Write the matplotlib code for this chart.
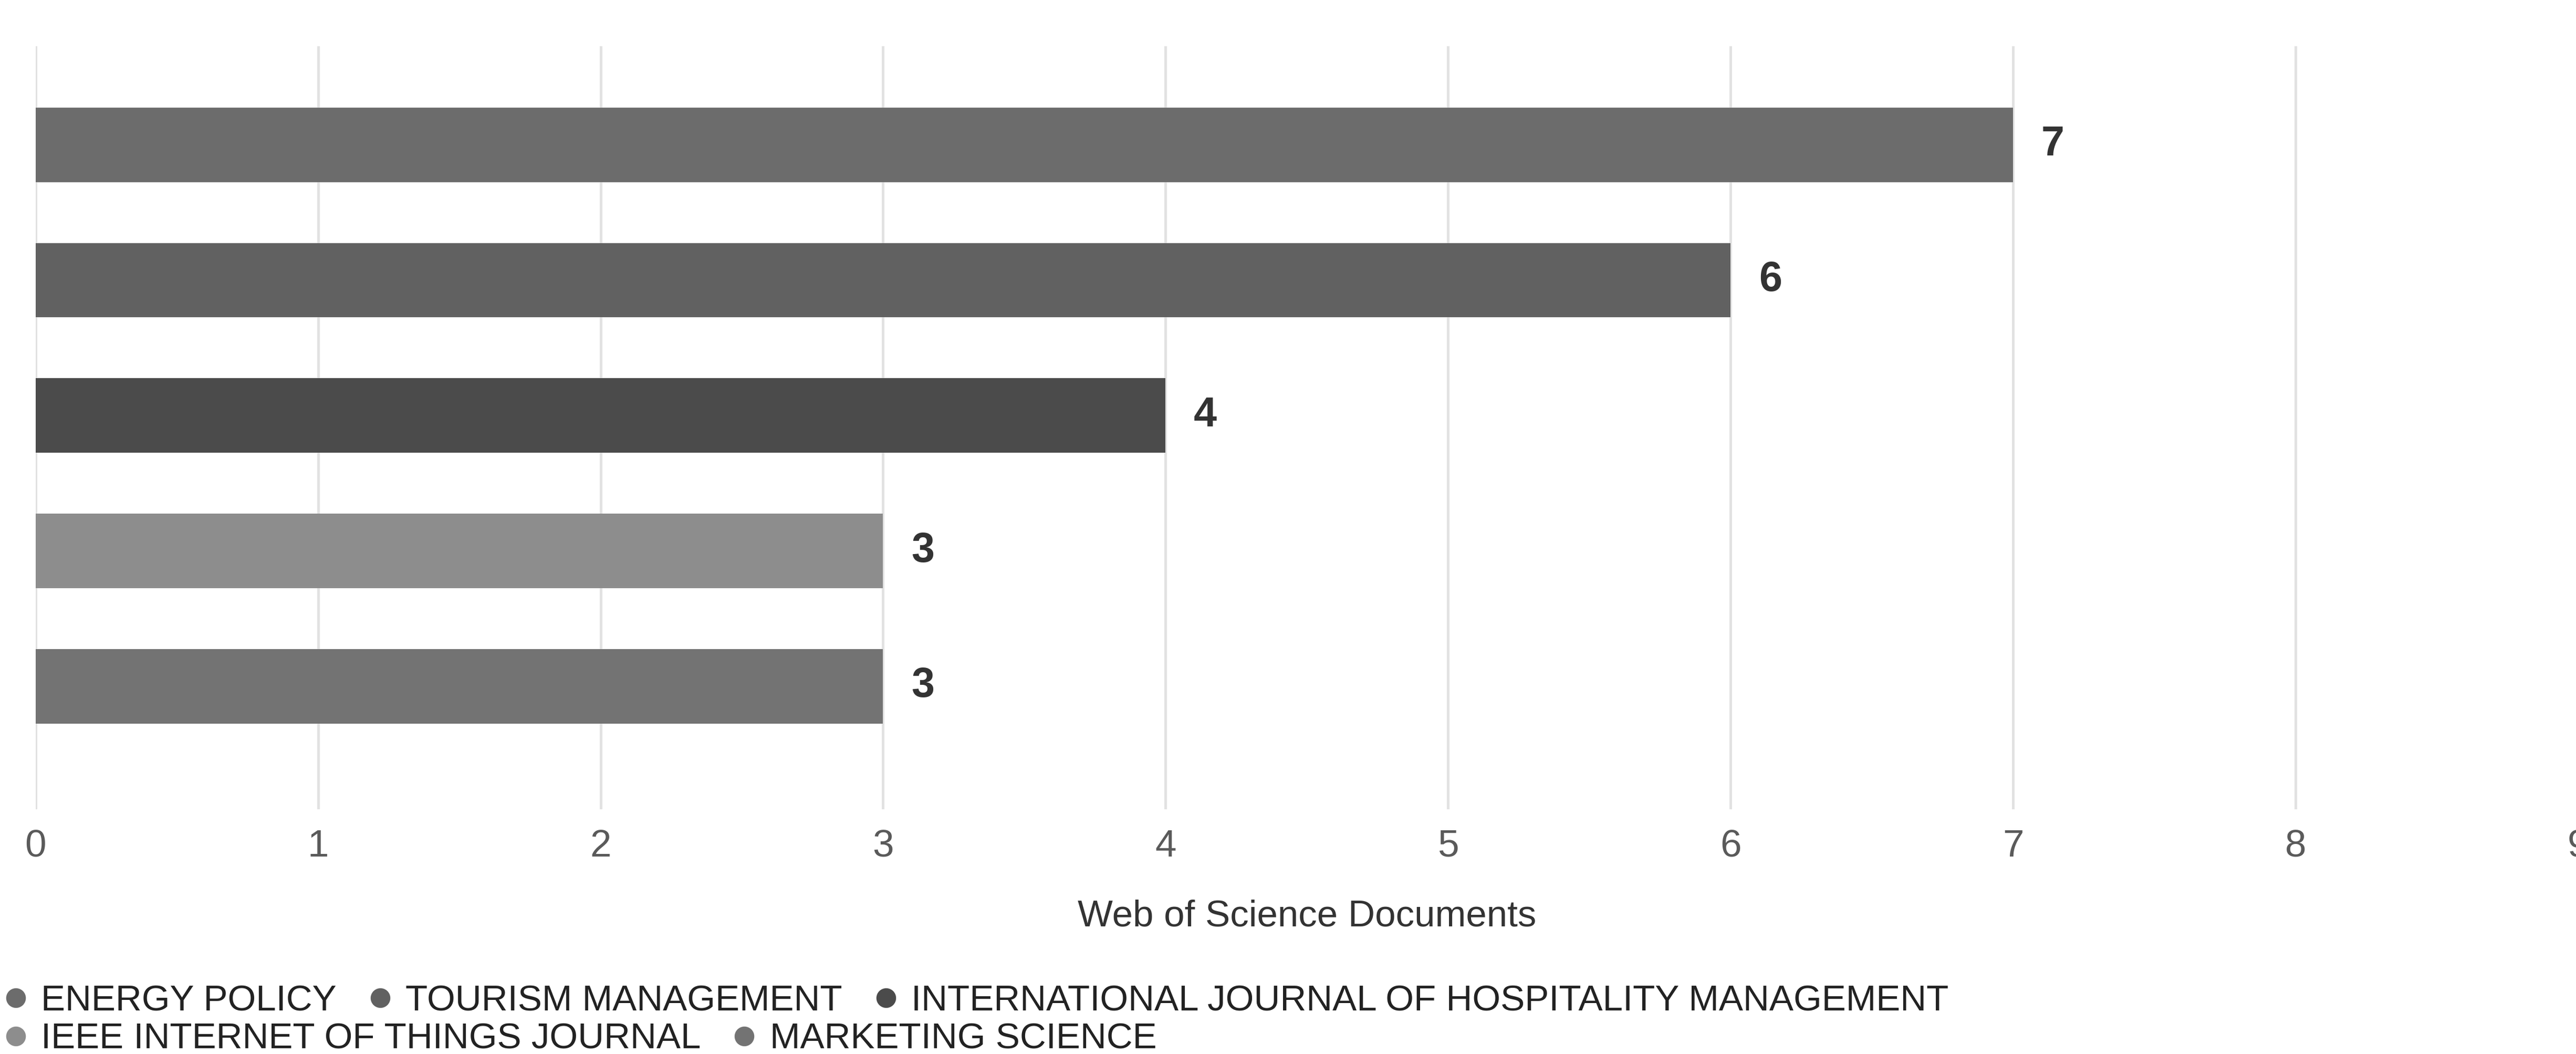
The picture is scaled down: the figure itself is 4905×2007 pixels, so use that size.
import matplotlib.pyplot as plt
from matplotlib.lines import Line2D

plt.rcParams['font.family'] = ['Liberation Sans', 'DejaVu Sans']

journals = ['ENERGY POLICY', 'TOURISM MANAGEMENT',
            'INTERNATIONAL JOURNAL OF HOSPITALITY MANAGEMENT',
            'IEEE INTERNET OF THINGS JOURNAL', 'MARKETING SCIENCE']
docs = [7, 6, 4, 3, 3]
colors = ['#6c6c6c', '#616161', '#4b4b4b', '#8d8d8d', '#737373']
xticks = [0, 1, 2, 3, 4, 5, 6, 7, 8, 9]

fig = plt.figure(figsize=(16.35, 6.69), dpi=300)
ax = fig.add_axes([0.0138, 0.232, 0.987, 0.7244])

ypos = list(range(len(journals)))
ax.barh(ypos, docs, height=0.55, color=colors, zorder=2)
for y, v in zip(ypos, docs):
    ax.text(v + 0.1, y, str(v), va='center', ha='left', fontsize=19,
            fontweight='bold', color='#333333')

ax.set_xlim(0, 9)
ax.set_ylim(4.91, -0.73)
ax.set_xticks(xticks)
ax.set_yticks([])
ax.tick_params(axis='x', length=0, pad=9, labelsize=17.5, labelcolor='#5a5a5a')
ax.grid(axis='x', color='#e2e2e2', linewidth=1.2, zorder=0)
for s in ax.spines.values():
    s.set_visible(False)
ax.set_xlabel('Web of Science Documents', fontsize=17, color='#333333', labelpad=16)

def handles(idx):
    return [Line2D([], [], marker='o', linestyle='', markersize=8,
                   color=colors[i]) for i in idx]

row1 = [0, 1, 2]
row2 = [3, 4]
for idx, yy in [(row1, 0.050), (row2, 0.014)]:
    fig.legend(handles(idx), [journals[i] for i in idx], loc='center left',
               bbox_to_anchor=(0.0025, yy), ncol=len(idx), frameon=False,
               fontsize=16.6, handlelength=0.5, handletextpad=0.45,
               columnspacing=0.95, borderpad=0, borderaxespad=0,
               labelcolor='#222222')

plt.savefig('out.png', dpi=300)
